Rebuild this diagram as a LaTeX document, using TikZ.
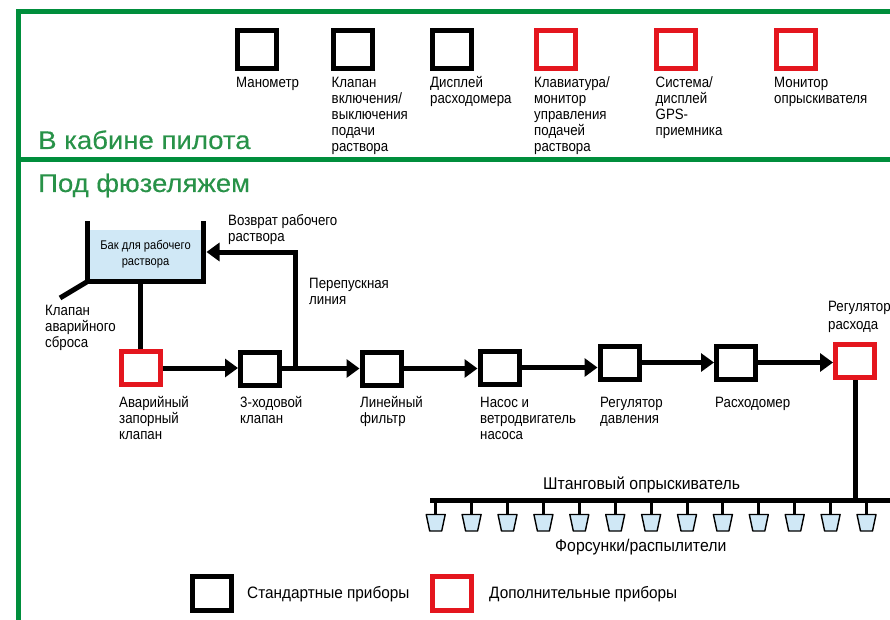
\documentclass[tikz,border=0pt]{standalone}
\usepackage{fontspec}
\setmainfont[FakeStretch=0.885]{Liberation Sans}
\newfontfamily\headfont[FakeStretch=1.08,FakeBold=0.3]{Liberation Sans}
\newfontfamily\bigfont[FakeStretch=0.93]{Liberation Sans}
\usetikzlibrary{arrows.meta,calc}
\definecolor{framegreen}{RGB}{0,142,60}
\definecolor{headgreen}{RGB}{40,146,72}
\definecolor{devred}{RGB}{228,22,30}
\definecolor{liquid}{RGB}{208,232,246}
\newcommand\lab{\fontsize{15}{16}\selectfont}
\newcommand\labbig{\bigfont\fontsize{17}{16}\selectfont}
\newcommand\lablegend{\bigfont\fontsize{16.5}{16}\selectfont}
\newcommand\labsmall{\fontsize{12.6}{16}\selectfont}
\tikzset{
  x=1pt,y=-1pt,
  frameline/.style={draw=framegreen,line width=5pt},
  stdbox/.style={draw=black,line width=5pt,fill=white,minimum width=39pt,minimum height=33pt,inner sep=0pt,outer sep=2.5pt},
  optbox/.style={stdbox,draw=devred},
  cabbox/.style={minimum height=38pt},
  lbl/.style={anchor=north west,inner sep=0pt,align=left,font=\lab},
  heading/.style={anchor=base west,inner sep=0pt,text=headgreen,font=\headfont\fontsize{25.5}{28}\selectfont},
  pipe/.style={draw=black,line width=5pt},
  flow/.style={pipe,-{Triangle[length=13pt,width=18pt]}},
  stemline/.style={draw=black,line width=3pt},
  nozzle/.style={draw=black,line width=1.4pt,fill=liquid,line join=round},
}
\begin{document}
\begin{tikzpicture}
\useasboundingbox (0,0) rectangle (890,620);
% frame
\coordinate (ftl) at (18.5,11.5);
\coordinate (ftr) at (890,11.5);
\coordinate (fbl) at (18.5,620);
\coordinate (fml) at (18.5,160);
\coordinate (fmr) at (890,160);
\draw[frameline] (ftr) -- (ftl) -- (fbl);
\draw[frameline] (fml) -- (fmr);
% headings
\node[heading] (hcab) at (38,149) {В кабине пилота};
\node[heading] (hfus) at (38,192) {Под фюзеляжем};
% cabin instruments
\node[stdbox,cabbox] (c1) at (256.8,49.5) {};
\node[stdbox,cabbox] (c2) at (353.4,49.5) {};
\node[stdbox,cabbox] (c3) at (451.7,49.5) {};
\node[optbox,cabbox] (c4) at (555.9,49.5) {};
\node[optbox,cabbox] (c5) at (676.2,49.5) {};
\node[optbox,cabbox] (c6) at (795.5,49.5) {};
\node[lbl] (t1) at (236,76) {\strut Манометр};
\node[lbl] (t2) at (331.5,76) {\strut Клапан\\включения/\\выключения\\подачи\\раствора};
\node[lbl] (t3) at (430,76) {\strut Дисплей\\расходомера};
\node[lbl] (t4) at (534,76) {\strut Клавиатура/\\монитор\\управления\\подачей\\раствора};
\node[lbl] (t5) at (655.5,76) {\strut Система/\\дисплей\\GPS-\\приемника};
\node[lbl] (t6) at (774,76) {\strut Монитор\\опрыскивателя};
% tank
\node[fill=liquid,minimum width=111pt,minimum height=49pt,inner sep=0pt,align=center,font=\labsmall] (tank) at (145.5,254.5) {Бак для рабочего\\раствора};
\coordinate (tl) at (87.5,221);
\coordinate (tr) at (203.5,221);
\coordinate (bl) at (87.5,281.5);
\coordinate (br) at (203.5,281.5);
\coordinate (dump) at (60,298);
\coordinate (retin) at (206.5,252);
\draw[pipe,line join=miter] (tl) -- (bl) -- (br) -- (tr);
\draw[pipe] (bl) -- (dump);
% process line
\node[optbox] (em) at (140.5,368) {};
\node[stdbox] (tw) at (260,368.5) {};
\node[stdbox] (fi) at (381.5,368.5) {};
\node[stdbox] (pu) at (499.5,367.5) {};
\node[stdbox] (pr) at (619.5,362.5) {};
\node[stdbox] (fm) at (736,362.5) {};
\node[optbox] (fr) at (855,361) {};
\coordinate (byp) at (295,368.5);
\coordinate (tankout) at (em.north |- br);
\draw[pipe] (tankout) -- (em.north);
\draw[flow] (em.east) -- (em.east -| tw.west);
\draw[flow] (tw.east) -- (fi.west);
\draw[flow] (fi.east) -- (fi.east -| pu.west);
\draw[flow] (pu.east) -- (pu.east -| pr.west);
\draw[flow] (pr.east) -- (pr.east -| fm.west);
\draw[flow] (fm.east) -- (fm.east -| fr.west);
\draw[flow] (byp) |- (retin);
% labels
\node[lbl] (l0) at (228,214.5) {\strut Возврат рабочего\\раствора};
\node[lbl] (l1) at (309,277) {\strut Перепускная\\линия};
\node[lbl] (l2) at (45,304) {\strut Клапан\\аварийного\\сброса};
\node[lbl] (l3) at (119,396) {\strut Аварийный\\запорный\\клапан};
\node[lbl] (l4) at (240,396) {\strut 3-ходовой\\клапан};
\node[lbl] (l5) at (360,396) {\strut Линейный\\фильтр};
\node[lbl] (l6) at (480,396) {\strut Насос и\\ветродвигатель\\насоса};
\node[lbl] (l7) at (600,396) {\strut Регулятор\\давления};
\node[lbl] (l8) at (715,396) {\strut Расходомер};
\node[lbl] (l9) at (828,300) {\strut Регулятор\\[2pt]расхода};
% boom
\coordinate (bw) at (430,500.5);
\coordinate (be) at (890,500.5);
\coordinate (bj) at (fr.south |- bw);
\draw[pipe] (bw) -- (be);
\draw[pipe] (fr.south) -- (bj);
\foreach \i in {0,...,12}{
  \coordinate (n\i) at (435.7+35.9*\i,500.5);
  \draw[stemline] (n\i) -- ++(0,13);
  \draw[nozzle] ($(n\i)+(-9.5,14)$) -- ++(19,0) -- ++(-3.5,16.5) -- ++(-12,0) -- cycle;
}
\node[lbl,font=\labbig] (lb) at (543,477) {\strut Штанговый опрыскиватель};
\node[lbl,font=\labbig] (ln) at (555,539) {\strut Форсунки/распылители};
% legend
\node[stdbox,minimum height=34pt] (k1) at (212,593) {};
\node[optbox,minimum height=34pt] (k2) at (451.5,593) {};
\node[lbl,font=\lablegend] (k1t) at (247,586) {\strut Стандартные приборы};
\node[lbl,font=\lablegend] (k2t) at (489,586) {\strut Дополнительные приборы};
\end{tikzpicture}
\end{document}
